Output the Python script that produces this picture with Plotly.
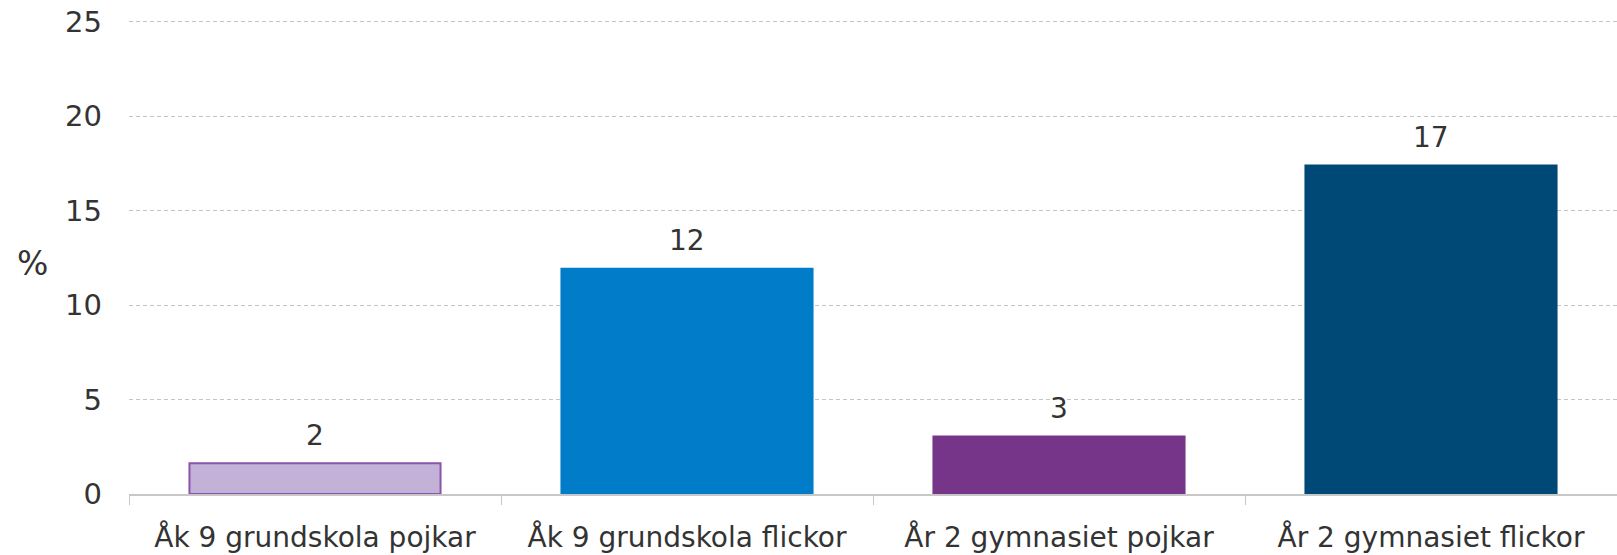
import plotly.graph_objects as go

categories = ["Åk 9 grundskola pojkar", "Åk 9 grundskola flickor",
              "År 2 gymnasiet pojkar", "År 2 gymnasiet flickor"]
values = [1.63, 11.92, 3.04, 17.39]
fill_colors = ["#c3b1d8", "#007cc8", "#763589", "#004875"]
line_colors = ["#8b53a9", "#007cc8", "#763589", "#004875"]
y_ticks = [0, 5, 10, 15, 20, 25]

FONT = "DejaVu Sans"
TXT = "#333333"

fig = go.Figure(go.Bar(
    x=categories, y=values,
    marker=dict(color=fill_colors, line=dict(color=line_colors, width=2)),
    cliponaxis=False,
))

for c, v in zip(categories, values):
    fig.add_annotation(x=c, y=v, text=f"{v:.0f}", showarrow=False,
                       xanchor="center", yanchor="middle", yshift=28,
                       font=dict(family=FONT, size=28, color=TXT))

fig.update_layout(
    width=1617, height=555,
    margin=dict(l=129, r=0, t=19, b=61, autoexpand=False),
    plot_bgcolor="white", paper_bgcolor="white",
    bargap=0.325,
    showlegend=False,
    font=dict(family=FONT, size=28, color=TXT),
)
fig.update_xaxes(
    showline=True, linecolor="#c8c8c8", linewidth=1.5,
    ticks="outside", tickson="boundaries", ticklen=9, tickcolor="#c8c8c8",
    tickfont=dict(family=FONT, size=28, color=TXT),
    ticklabelstandoff=18,
    showgrid=False,
)
fig.update_yaxes(
    range=[0, 25.15], tickvals=y_ticks,
    showgrid=True, gridcolor="#c4c4c4", griddash="4px,3px", gridwidth=1,
    zeroline=False, showline=False,
    ticks="", ticklabelstandoff=26,
    tickfont=dict(family=FONT, size=29, color=TXT),
)
fig.add_annotation(text="%", xref="paper", yref="paper", x=-0.065, y=0.486,
                   xanchor="center", yanchor="middle", showarrow=False,
                   font=dict(family=FONT, size=33, color=TXT))

fig.write_html("out.html",
               config={"displayModeBar": False},
               post_script="document.body.style.margin='0px';"
                           "document.body.style.overflow='hidden';")
